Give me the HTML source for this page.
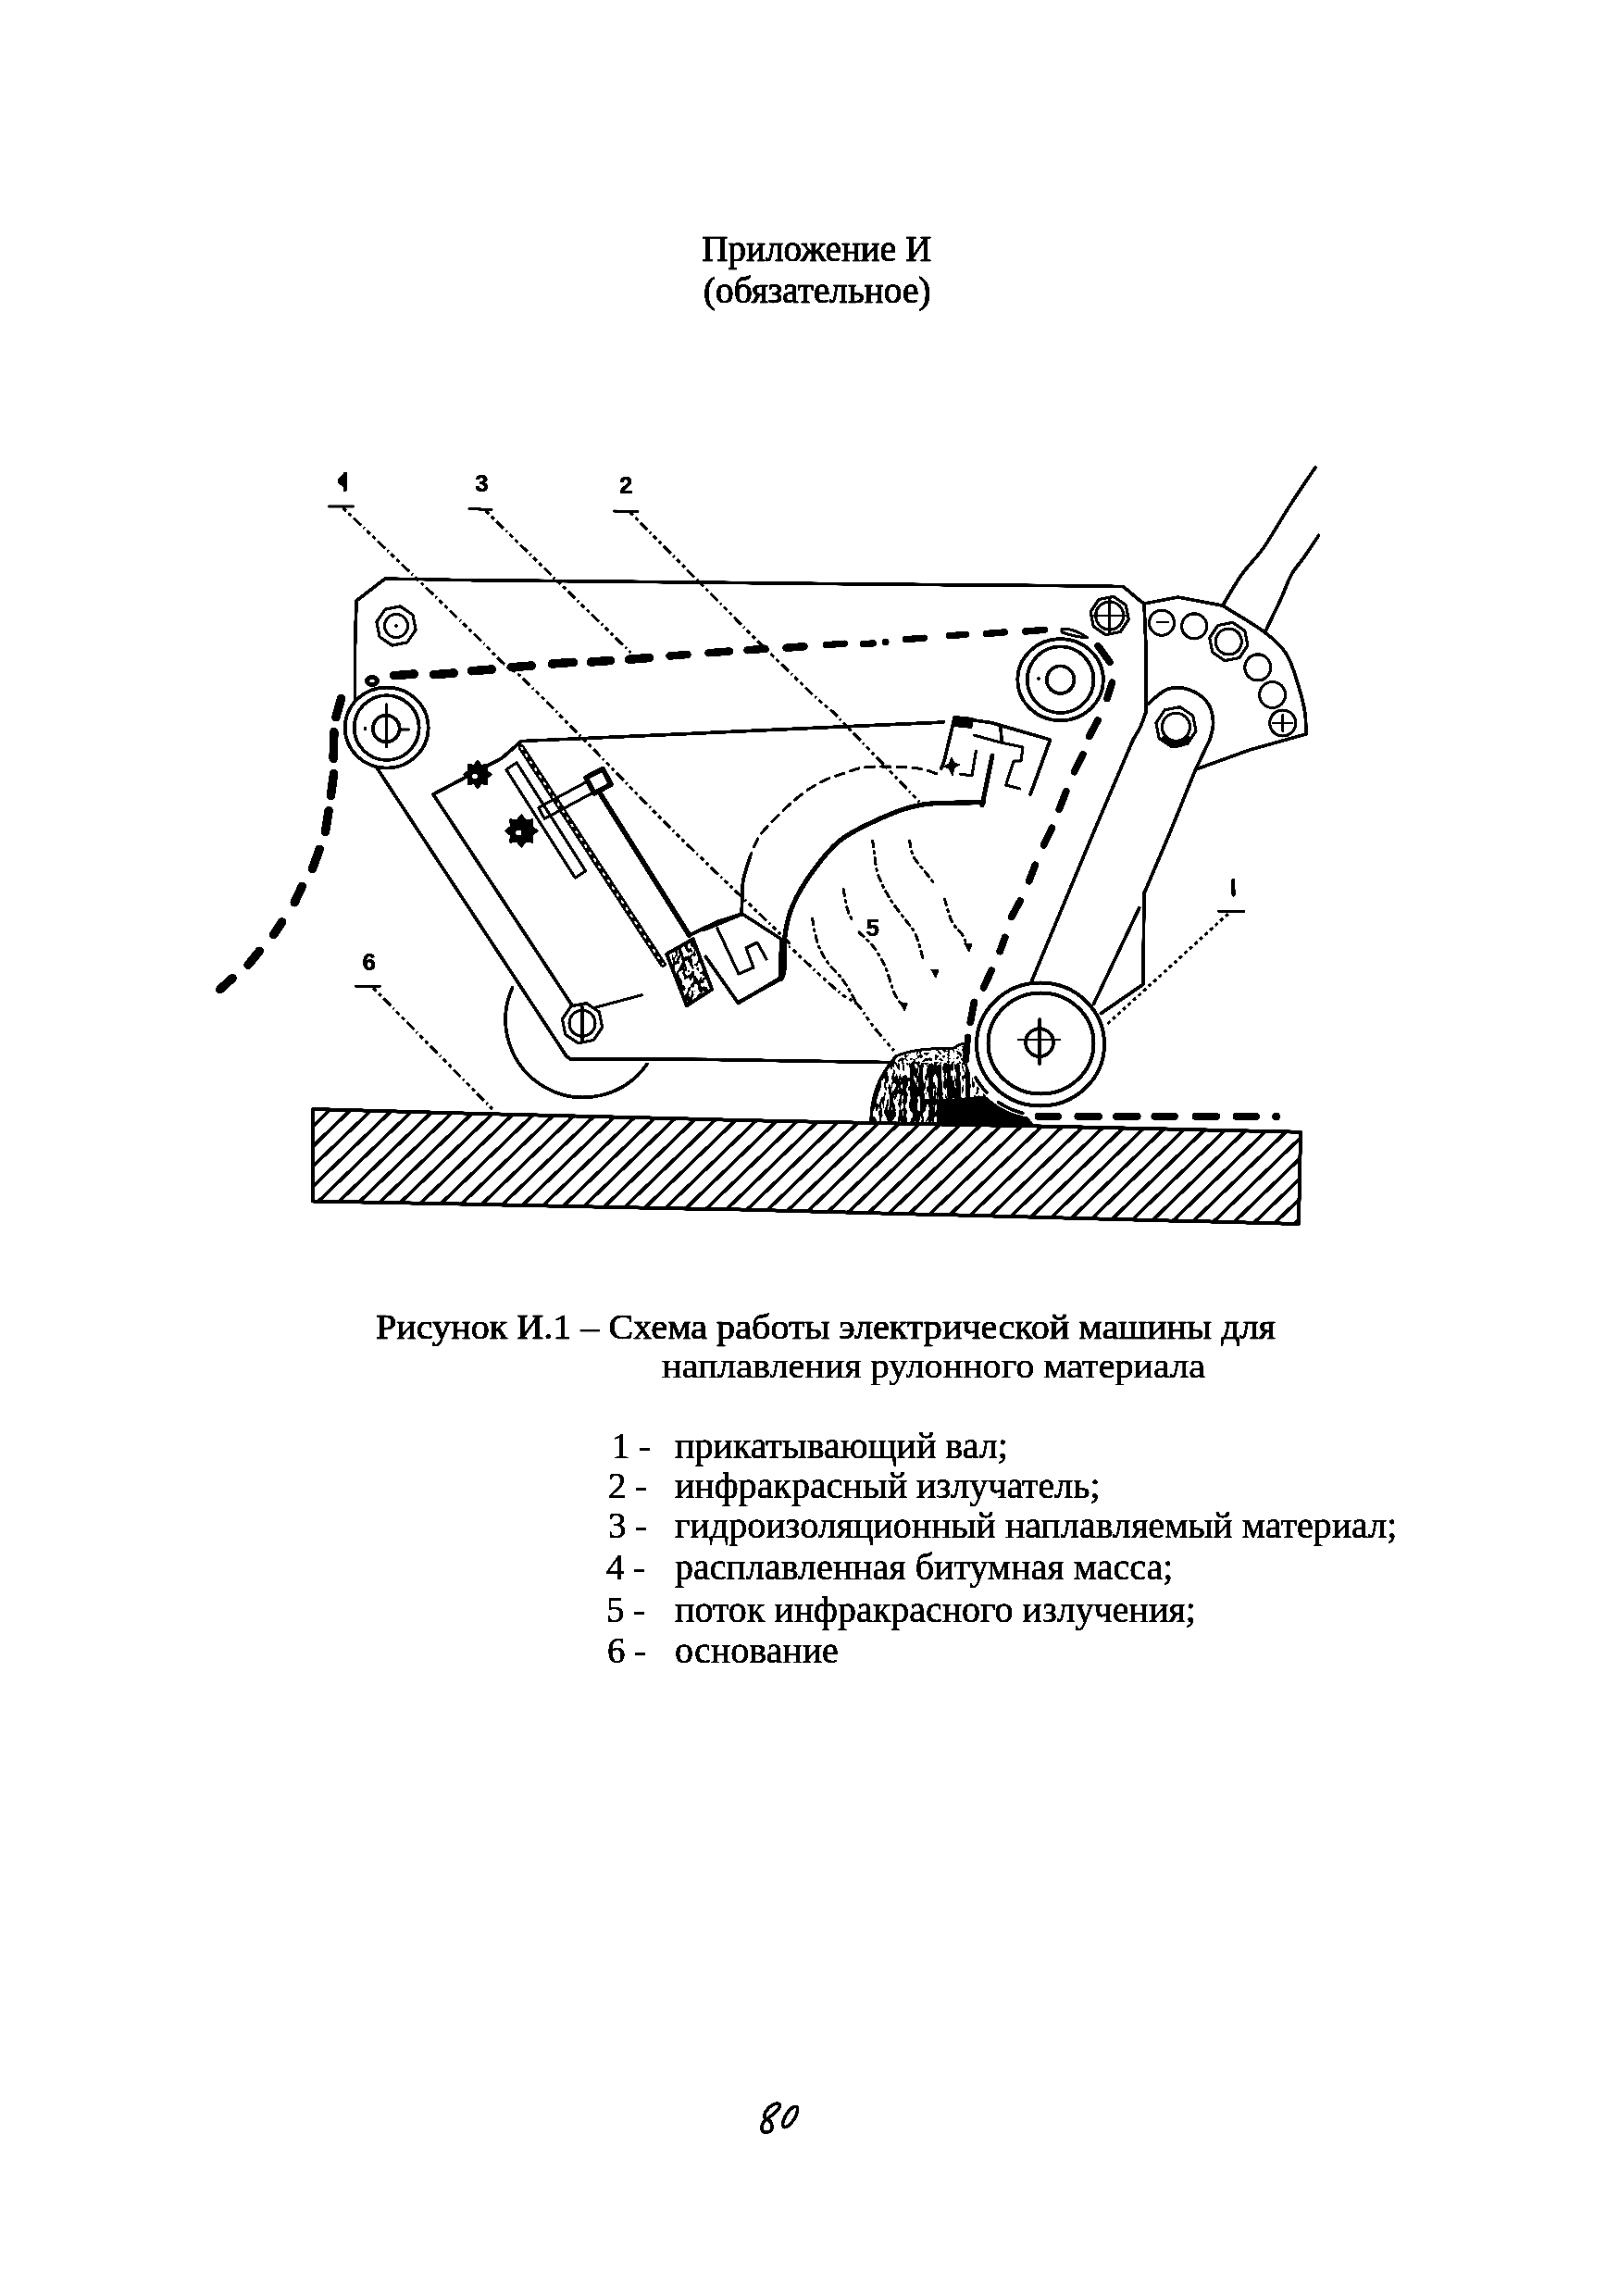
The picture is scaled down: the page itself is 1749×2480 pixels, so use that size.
<!DOCTYPE html>
<html><head><meta charset="utf-8"><style>
html,body{margin:0;padding:0;background:#fff;}
svg{display:block;filter:grayscale(1) contrast(12);}
</style></head><body>
<svg width="1749" height="2480" viewBox="0 0 1749 2480">
<rect width="1749" height="2480" fill="#fff"/>
<g fill="none" stroke="#000" stroke-linecap="round" stroke-linejoin="round">
<clipPath id="bc"><polygon points="338.0,1198.0 530.0,1203.3 800.0,1210.0 1124.0,1216.6 1405.0,1222.8 1403.0,1322.0 800.0,1306.6 530.0,1301.2 338.0,1297.5"/></clipPath>
<g clip-path="url(#bc)" stroke-width="3.8"><line x1="323.9" y1="1100" x2="12.7" y2="1400"/><line x1="346.4" y1="1100" x2="35.2" y2="1400"/><line x1="368.9" y1="1100" x2="57.7" y2="1400"/><line x1="391.4" y1="1100" x2="80.2" y2="1400"/><line x1="413.9" y1="1100" x2="102.7" y2="1400"/><line x1="436.4" y1="1100" x2="125.2" y2="1400"/><line x1="458.9" y1="1100" x2="147.7" y2="1400"/><line x1="481.4" y1="1100" x2="170.2" y2="1400"/><line x1="503.9" y1="1100" x2="192.7" y2="1400"/><line x1="526.4" y1="1100" x2="215.2" y2="1400"/><line x1="548.9" y1="1100" x2="237.7" y2="1400"/><line x1="571.4" y1="1100" x2="260.2" y2="1400"/><line x1="593.9" y1="1100" x2="282.7" y2="1400"/><line x1="616.4" y1="1100" x2="305.2" y2="1400"/><line x1="638.9" y1="1100" x2="327.7" y2="1400"/><line x1="661.4" y1="1100" x2="350.2" y2="1400"/><line x1="683.9" y1="1100" x2="372.7" y2="1400"/><line x1="706.4" y1="1100" x2="395.2" y2="1400"/><line x1="728.9" y1="1100" x2="417.7" y2="1400"/><line x1="751.4" y1="1100" x2="440.2" y2="1400"/><line x1="773.9" y1="1100" x2="462.7" y2="1400"/><line x1="796.4" y1="1100" x2="485.2" y2="1400"/><line x1="818.9" y1="1100" x2="507.7" y2="1400"/><line x1="841.4" y1="1100" x2="530.2" y2="1400"/><line x1="863.9" y1="1100" x2="552.7" y2="1400"/><line x1="886.4" y1="1100" x2="575.2" y2="1400"/><line x1="908.9" y1="1100" x2="597.7" y2="1400"/><line x1="931.4" y1="1100" x2="620.2" y2="1400"/><line x1="953.9" y1="1100" x2="642.6" y2="1400"/><line x1="976.3" y1="1100" x2="665.1" y2="1400"/><line x1="998.8" y1="1100" x2="687.6" y2="1400"/><line x1="1021.3" y1="1100" x2="710.1" y2="1400"/><line x1="1043.8" y1="1100" x2="732.6" y2="1400"/><line x1="1066.3" y1="1100" x2="755.1" y2="1400"/><line x1="1088.8" y1="1100" x2="777.6" y2="1400"/><line x1="1111.3" y1="1100" x2="800.1" y2="1400"/><line x1="1133.8" y1="1100" x2="822.6" y2="1400"/><line x1="1156.3" y1="1100" x2="845.1" y2="1400"/><line x1="1178.8" y1="1100" x2="867.6" y2="1400"/><line x1="1201.3" y1="1100" x2="890.1" y2="1400"/><line x1="1223.8" y1="1100" x2="912.6" y2="1400"/><line x1="1246.3" y1="1100" x2="935.1" y2="1400"/><line x1="1268.8" y1="1100" x2="957.6" y2="1400"/><line x1="1291.3" y1="1100" x2="980.1" y2="1400"/><line x1="1313.8" y1="1100" x2="1002.6" y2="1400"/><line x1="1336.3" y1="1100" x2="1025.1" y2="1400"/><line x1="1358.8" y1="1100" x2="1047.6" y2="1400"/><line x1="1381.3" y1="1100" x2="1070.1" y2="1400"/><line x1="1403.8" y1="1100" x2="1092.6" y2="1400"/><line x1="1426.3" y1="1100" x2="1115.1" y2="1400"/><line x1="1448.8" y1="1100" x2="1137.6" y2="1400"/><line x1="1471.3" y1="1100" x2="1160.1" y2="1400"/><line x1="1493.8" y1="1100" x2="1182.6" y2="1400"/><line x1="1516.3" y1="1100" x2="1205.1" y2="1400"/><line x1="1538.8" y1="1100" x2="1227.6" y2="1400"/><line x1="1561.3" y1="1100" x2="1250.1" y2="1400"/><line x1="1583.8" y1="1100" x2="1272.6" y2="1400"/><line x1="1606.3" y1="1100" x2="1295.1" y2="1400"/><line x1="1628.8" y1="1100" x2="1317.6" y2="1400"/><line x1="1651.3" y1="1100" x2="1340.1" y2="1400"/></g>
<polygon points="338.0,1198.0 530.0,1203.3 800.0,1210.0 1124.0,1216.6 1405.0,1222.8 1403.0,1322.0 800.0,1306.6 530.0,1301.2 338.0,1297.5" stroke-width="4.0" />
<polyline points="383.5,757.0 383.5,700.0 385.0,649.0 416.0,625.0 500.0,626.5 880.0,630.4 1180.0,632.9 1213.5,633.6 1230.5,648.0 1236.0,652.0 1238.0,700.0 1238.0,769.0" stroke-width="3.75" />
<polygon points="449.1,680.3 439.9,693.9 423.7,697.1 410.1,687.9 406.9,671.7 416.1,658.1 432.3,654.9 445.9,664.1" stroke-width="3.125" />
<circle cx="428.0" cy="676.0" r="12.5" stroke-width="3.125" />
<circle cx="428.0" cy="676.0" r="2.0" fill="#000" stroke="none"/>
<polygon points="1219.3,669.2 1210.3,682.5 1194.5,685.6 1181.2,676.6 1178.1,660.8 1187.1,647.5 1202.9,644.4 1216.2,653.4" stroke-width="3.125" />
<circle cx="1198.7" cy="665.0" r="15.0" stroke-width="3.125" />
<line x1="1181.9" y1="665.0" x2="1215.5" y2="665.0" stroke-width="2.5" />
<line x1="1198.7" y1="646.1" x2="1198.7" y2="683.9" stroke-width="3.125" />
<polyline points="1236.0,652.0 1272.6,645.0 1320.8,654.2" stroke-width="3.75" />
<path d="M1320.8,654.2 C1328.2,658.8 1353.6,673.4 1365.0,682.0 C1376.4,690.6 1383.2,696.4 1389.4,706.0 C1395.6,715.6 1398.9,728.7 1402.3,739.4 C1405.7,750.1 1408.4,761.1 1409.8,770.0 C1411.2,778.9 1410.5,789.2 1410.7,793.0" stroke-width="3.75" />
<polyline points="1410.7,793.0 1350.0,810.0 1292.0,831.0" stroke-width="3.75" />
<circle cx="1255.0" cy="672.7" r="13.5" stroke-width="3.125" />
<circle cx="1290.2" cy="676.4" r="13.5" stroke-width="3.125" />
<circle cx="1358.8" cy="720.9" r="14.0" stroke-width="3.125" />
<circle cx="1374.6" cy="750.5" r="14.0" stroke-width="3.125" />
<circle cx="1385.7" cy="781.0" r="14.0" stroke-width="3.125" />
<polygon points="1347.9,697.2 1338.9,710.5 1323.1,713.6 1309.8,704.6 1306.7,688.8 1315.7,675.5 1331.5,672.4 1344.8,681.4" stroke-width="3.125" />
<circle cx="1327.3" cy="693.0" r="14.0" stroke-width="3.125" />
<line x1="1250.0" y1="672.0" x2="1262.0" y2="672.0" stroke-width="2.5" />
<line x1="1385.7" y1="772.0" x2="1385.7" y2="790.0" stroke-width="2.5" />
<line x1="1375.0" y1="781.0" x2="1396.0" y2="781.0" stroke-width="2.5" />
<path d="M1320.8,654.2 C1324.2,648.6 1333.8,631.3 1341.2,620.8 C1348.6,610.3 1356.7,603.6 1365.3,591.2 C1373.9,578.9 1383.7,561.1 1393.0,546.7 C1402.3,532.3 1416.2,511.9 1420.9,505.0" stroke-width="3.75" />
<path d="M1367.0,682.0 C1369.8,676.1 1379.1,657.0 1383.8,646.8 C1388.5,636.6 1390.7,628.5 1395.0,620.8 C1399.3,613.1 1404.9,607.5 1409.8,600.4 C1414.7,593.3 1422.1,581.9 1424.6,578.2" stroke-width="3.75" />
<path d="M1238.0,769.0 C1237.0,771.7 1234.3,780.0 1232.0,785.0 C1229.7,790.0 1225.3,796.7 1224.0,799.0" stroke-width="3.75" />
<polyline points="1224.0,799.0 1181.0,900.0 1114.0,1061.0" stroke-width="3.75" />
<path d="M1240.0,760.5 C1243.5,757.8 1253.6,747.1 1261.0,744.5 C1268.4,741.9 1277.4,742.6 1284.6,745.0 C1291.8,747.4 1300.1,753.2 1304.4,759.0 C1308.7,764.8 1310.2,773.3 1310.6,780.0 C1311.0,786.7 1307.6,795.8 1307.0,799.0" stroke-width="3.75" />
<polyline points="1307.0,799.0 1292.0,830.0 1263.6,900.0 1236.0,965.0" stroke-width="3.75" />
<polyline points="1236.0,965.0 1234.8,1063.4 1189.4,1094.6" stroke-width="3.75" />
<polyline points="1230.9,980.4 1181.6,1084.2" stroke-width="3.75" />
<polygon points="1292.0,789.6 1282.6,803.5 1266.0,806.8 1252.1,797.4 1248.8,780.8 1258.2,766.9 1274.8,763.6 1288.7,773.0" stroke-width="3.125" />
<circle cx="1270.4" cy="785.2" r="15.0" stroke-width="3.125" />
<path d="M1258,798 A15,15 0 0 0 1283,798" stroke-width="6"/>
<ellipse cx="1145.6" cy="734.2" rx="46.3" ry="44.0" stroke-width="3.75" />
<circle cx="1145.6" cy="734.2" r="35.8" stroke-width="3.75" />
<circle cx="1145.6" cy="734.2" r="14.8" stroke-width="3.75" />
<circle cx="1122.0" cy="733.0" r="2.0" fill="#000" stroke="none"/>
<ellipse cx="417.7" cy="786.0" rx="45.0" ry="43.5" stroke-width="3.75" />
<circle cx="417.7" cy="786.0" r="35.0" stroke-width="3.75" />
<circle cx="417.2" cy="787.0" r="14.4" stroke-width="3.75" />
<line x1="417.5" y1="761.0" x2="417.5" y2="806.0" stroke-width="3.75" />
<line x1="433.0" y1="788.0" x2="442.0" y2="788.0" stroke-width="3.125" />
<circle cx="394.5" cy="787.0" r="2.0" fill="#000" stroke="none"/>
<polyline points="407.5,830.0 612.0,1141.0 616.4,1143.8 760.0,1144.4 965.8,1147.6" stroke-width="3.75" />
<polyline points="618.0,1086.0 468.0,858.0 542.0,819.0 563.3,800.5 680.0,795.4 900.0,785.4 1019.6,780.0" stroke-width="3.75" />
<path d="M553.6,1066.7 A84,84 0 0 0 699,1149.4" stroke-width="3.75"/>
<polygon points="650.6,1109.6 641.2,1123.5 624.6,1126.8 610.7,1117.4 607.4,1100.8 616.8,1086.9 633.4,1083.6 647.3,1093.0" stroke-width="3.125" />
<circle cx="629.0" cy="1105.2" r="14.0" stroke-width="3.125" />
<line x1="629.0" y1="1087.6" x2="629.0" y2="1125.0" stroke-width="3.125" />
<line x1="643.0" y1="1088.2" x2="693.4" y2="1074.8" stroke-width="3.125" />
<polygon points="546.8,831.2 621.3,948.2 632.7,940.8 558.2,823.8" stroke-width="3.125" />
<line x1="563.3" y1="807.7" x2="716.1" y2="1041.4" stroke-width="7" />
<line x1="563.3" y1="807.7" x2="716.1" y2="1041.4" stroke="#fff" stroke-width="2.2" stroke-dasharray="2 7"/>
<line x1="648.9" y1="858.0" x2="744.6" y2="1010.2" stroke-width="5.625" />
<polygon points="588.2,884.3 658.9,846.3 652.5,834.3 581.8,872.3" stroke-width="3.125" />
<polygon points="642.0,856.9 660.0,847.2 651.0,830.4 633.0,840.1" stroke-width="5.625" fill="#fff"/>
<polygon points="531.5,836.5 526.3,840.8 527.0,847.5 520.3,846.8 516.0,852.0 511.7,846.8 505.0,847.5 505.7,840.8 500.5,836.5 505.7,832.2 505.0,825.5 511.7,826.2 516.0,821.0 520.3,826.2 527.0,825.5 526.3,832.2" fill="#000" stroke-width="1"/>
<circle cx="513.0" cy="838.5" r="3.0" stroke-width="0.0" fill="#fff" stroke="none"/>
<polygon points="581.3,897.5 575.3,902.5 576.0,910.2 568.3,909.5 563.3,915.5 558.3,909.5 550.6,910.2 551.3,902.5 545.3,897.5 551.3,892.5 550.6,884.8 558.3,885.5 563.3,879.5 568.3,885.5 576.0,884.8 575.3,892.5" fill="#000" stroke-width="1"/>
<circle cx="560.3" cy="899.5" r="3.0" stroke-width="0.0" fill="#fff" stroke="none"/>
<pattern id="stip" width="6" height="6" patternUnits="userSpaceOnUse"><rect width="6" height="6" fill="#fff"/><rect x="0" y="0" width="4" height="3" fill="#000"/><rect x="3" y="3" width="2" height="3" fill="#000"/></pattern>
<filter id="mot1" filterUnits="userSpaceOnUse" x="700" y="1000" width="90" height="100"><feTurbulence type="fractalNoise" baseFrequency="0.22 0.12" numOctaves="2" seed="7" result="n"/><feColorMatrix in="n" type="matrix" values="0 0 0 0 0  0 0 0 0 0  0 0 0 0 0  1 0 0 0 0"/><feComponentTransfer><feFuncA type="discrete" tableValues="0 0 0 0 0 0 0 0 0 0 1 1 1 1 1 1 1 1 1 1"/></feComponentTransfer><feComposite in2="SourceGraphic" operator="in"/></filter>
<polygon points="720.2,1030.6 748.7,1014.3 769.1,1068.6 741.9,1086.3" fill="#000" stroke="none" filter="url(#mot1)"/>
<polygon points="720.2,1030.6 748.7,1014.3 769.1,1068.6 741.9,1086.3" stroke-width="4"/>
<polyline points="744.6,1010.2 775.9,995.2 801.7,987.0 843.8,1014.3 842.5,1056.4 797.6,1083.6 762.3,1033.3" stroke-width="3.75" />
<polyline points="775.0,1003.0 783.0,1020.0 798.0,1052.0 814.0,1045.0 806.0,1024.0 818.0,1018.0 828.0,1036.0" stroke-width="3.125" />
<rect x="1031" y="774" width="20" height="12" fill="#000" stroke="none" transform="rotate(6 1041 780)"/>
<polyline points="1031.0,775.0 1071.0,780.6 1134.5,799.0 1116.8,848.0 1113.0,858.0" stroke-width="3.75" />
<polyline points="1031.0,776.0 1020.0,822.0 1016.7,830.0" stroke-width="3.75" />
<polyline points="1052.0,794.0 1081.0,802.0 1105.0,807.0 1103.0,822.0 1095.0,822.0 1086.7,848.0 1102.0,852.0" stroke-width="3.125" />
<polyline points="1072.0,816.0 1061.0,870.0" stroke-width="5.0" />
<line x1="1081.0" y1="785.0" x2="1082.0" y2="800.0" stroke-width="3.75" />
<polyline points="1054.4,811.0 1050.0,838.0 1037.0,836.0" stroke-width="3.125" />
<polygon points="1028,818 1031,824 1037,826 1031,829 1029,838 1025,830 1019,828 1025,825" fill="#000" stroke-width="1"/>
<path d="M1012.0,835.7 C1008.0,834.7 1000.0,830.7 987.8,829.5 C975.5,828.3 950.9,827.5 938.5,828.4 C926.1,829.3 922.0,831.9 913.3,834.7 C904.5,837.5 895.1,840.3 886.0,845.2 C876.9,850.1 869.2,854.9 858.7,864.0 C848.2,873.1 831.0,889.6 823.0,899.8 C815.0,910.0 812.5,920.8 810.4,925.0" stroke-width="3.125" stroke-dasharray="10 7"/>
<path d="M810.4,925.0 C809.2,929.2 804.4,943.0 803.0,950.0 C801.6,957.0 802.3,960.7 802.0,967.0 C801.7,973.3 801.2,984.5 801.0,988.0" stroke-width="3.75" />
<polyline points="801.0,988.0 760.0,1004.8" stroke-width="3.125" />
<path d="M1062.3,866.7 C1051.1,867.1 1014.1,866.2 995.2,869.3 C976.3,872.4 963.7,878.6 949.0,885.1 C934.3,891.6 918.9,898.8 907.0,908.2 C895.1,917.7 886.0,930.2 877.6,941.8 C869.2,953.3 861.5,966.3 856.6,977.5 C851.7,988.7 849.8,997.5 848.2,1009.0 C846.6,1020.5 847.8,1038.8 847.1,1046.8 C846.4,1054.8 844.5,1055.5 844.0,1057.3" stroke-width="5.25" />
<polyline points="844.0,1057.3 797.8,1082.5" stroke-width="3.75" />
<path d="M877.6,992.0 C878.1,994.8 879.3,1003.4 880.7,1009.0 C882.1,1014.6 883.4,1020.2 886.0,1025.8 C888.6,1031.4 892.3,1037.0 896.5,1042.6 C900.7,1048.2 906.3,1052.4 911.2,1059.4 C916.1,1066.4 923.5,1080.4 926.0,1084.6" stroke-width="3.125" stroke-dasharray="7 5 2 5"/>
<path d="M911.2,960.7 C911.9,964.2 913.6,975.8 915.4,981.7 C917.1,987.7 920.7,994.0 921.7,996.4" stroke-width="3.125" stroke-dasharray="7 5 2 5"/>
<path d="M928.0,1007.0 C930.5,1009.4 938.9,1017.1 942.7,1021.6 C946.5,1026.1 948.5,1030.0 951.0,1034.2 C953.5,1038.4 954.9,1040.5 957.4,1046.8 C959.9,1053.1 963.0,1065.6 965.8,1072.0 C968.6,1078.4 972.6,1082.8 974.0,1085.0" stroke-width="3.125" stroke-dasharray="7 5 2 5"/>
<path d="M942.7,908.0 C943.1,910.8 943.8,918.7 944.8,925.0 C945.8,931.3 946.2,938.3 949.0,946.0 C951.8,953.7 956.7,963.0 961.6,971.0 C966.5,979.0 973.8,987.7 978.4,994.0 C983.0,1000.3 985.9,1002.0 989.0,1009.0 C992.1,1016.0 995.9,1031.5 997.3,1036.0" stroke-width="3.125" stroke-dasharray="7 5 2 5"/>
<path d="M982.6,908.0 C983.3,910.8 984.0,919.4 986.8,925.0 C989.6,930.6 995.9,937.2 999.4,941.8 C1002.9,946.3 1006.4,950.5 1007.8,952.3" stroke-width="3.125" stroke-dasharray="7 5 2 5"/>
<path d="M1020.4,971.0 C1021.8,975.2 1025.6,990.1 1028.8,996.4 C1032.0,1002.7 1036.5,1004.5 1039.3,1009.0 C1042.1,1013.5 1044.5,1021.2 1045.6,1023.7" stroke-width="3.125" stroke-dasharray="7 5 2 5"/>
<polygon points="972.3,1082.8 980.3,1083.8 977.3,1091.8" fill="#000" stroke-width="1"/>
<polygon points="1006,1047 1014,1048 1011,1056" fill="#000" stroke-width="1"/>
<polygon points="1042,1019 1050,1020 1047,1028" fill="#000" stroke-width="1"/>
<g stroke-width="9.5">
<ellipse cx="402.0" cy="735.5" rx="5.5" ry="4.0" stroke-width="5" />
<line x1="425.5" y1="729.7" x2="447.5" y2="728.0" stroke-width="9.5" />
<line x1="468.5" y1="728.7" x2="490.5" y2="727.0" stroke-width="9.5" />
<line x1="509.5" y1="724.7" x2="531.5" y2="723.0" stroke-width="9.5" />
<line x1="552.5" y1="720.7" x2="574.5" y2="719.0" stroke-width="9.5" />
<line x1="596.5" y1="717.1" x2="619.5" y2="715.3" stroke-width="9.5" />
<line x1="638.5" y1="715.1" x2="659.5" y2="713.4" stroke-width="9.5" />
<line x1="679.5" y1="712.2" x2="701.5" y2="710.5" stroke-width="9.5" />
<line x1="723.5" y1="708.5" x2="742.5" y2="707.0" stroke-width="8.5" />
<line x1="765.5" y1="705.3" x2="788.0" y2="703.5" stroke-width="8.5" />
<line x1="807.5" y1="702.3" x2="826.5" y2="700.8" stroke-width="8.5" />
<line x1="849.5" y1="699.7" x2="868.5" y2="698.2" stroke-width="8.5" />
<line x1="892.5" y1="696.7" x2="912.5" y2="695.1" stroke-width="7.3" />
<line x1="932.5" y1="695.7" x2="943.5" y2="694.8" stroke-width="7.3" />
<line x1="978.5" y1="690.7" x2="998.5" y2="689.1" stroke-width="7.3" />
<line x1="1025.5" y1="686.7" x2="1043.5" y2="685.3" stroke-width="7.3" />
<line x1="1065.5" y1="684.5" x2="1085.5" y2="682.9" stroke-width="7.3" />
<line x1="1107.5" y1="682.0" x2="1128.5" y2="680.3" stroke-width="7.3" />
</g>
<circle cx="956.6" cy="693.4" r="4.0" fill="#000" stroke="none"/>
<path d="M1147,679 Q1162,679 1175,689 Q1162,688 1147,683 Z" stroke-width="3"/>
<line x1="1186.1" y1="697.5" x2="1198.9" y2="715.2" stroke-width="7.8" />
<line x1="1201.4" y1="737.3" x2="1196.0" y2="754.4" stroke-width="7.8" />
<line x1="1185.9" y1="778.1" x2="1176.7" y2="795.3" stroke-width="7.8" />
<line x1="1169.9" y1="815.1" x2="1160.6" y2="833.6" stroke-width="7.8" />
<line x1="1151.7" y1="854.8" x2="1144.3" y2="874.2" stroke-width="7.8" />
<line x1="1136.5" y1="894.2" x2="1127.5" y2="912.8" stroke-width="7.8" />
<line x1="1118.3" y1="934.3" x2="1111.7" y2="951.7" stroke-width="7.8" />
<line x1="1102.1" y1="973.1" x2="1092.7" y2="990.3" stroke-width="7.8" />
<line x1="1085.8" y1="1012.3" x2="1080.2" y2="1027.7" stroke-width="7.8" />
<line x1="1071.1" y1="1048.2" x2="1062.5" y2="1066.8" stroke-width="7.8" />
<line x1="1052.4" y1="1082.4" x2="1048.3" y2="1104.1" stroke-width="7.8" />
<line x1="368.6" y1="754.4" x2="362.9" y2="774.6" stroke-width="9.5" />
<line x1="360.9" y1="790.5" x2="360.1" y2="819.5" stroke-width="9.5" />
<line x1="360.6" y1="835.5" x2="357.4" y2="859.5" stroke-width="9.5" />
<line x1="355.1" y1="875.5" x2="351.5" y2="898.5" stroke-width="9.5" />
<line x1="345.2" y1="917.3" x2="337.4" y2="938.7" stroke-width="9.5" />
<line x1="326.3" y1="957.2" x2="318.2" y2="974.8" stroke-width="9.5" />
<line x1="304.6" y1="995.9" x2="295.5" y2="1009.6" stroke-width="9.5" />
<line x1="280.3" y1="1027.2" x2="268.0" y2="1042.3" stroke-width="9.5" />
<line x1="251.1" y1="1056.4" x2="237.8" y2="1068.6" stroke-width="9.5" />
<line x1="1121.5" y1="1205.8" x2="1143.1" y2="1205.8" stroke-width="7.8" />
<line x1="1164.3" y1="1205.8" x2="1187.2" y2="1205.8" stroke-width="7.8" />
<line x1="1205.8" y1="1205.8" x2="1228.7" y2="1205.8" stroke-width="7.8" />
<line x1="1247.3" y1="1205.8" x2="1268.9" y2="1205.8" stroke-width="7.8" />
<line x1="1291.5" y1="1205.8" x2="1314.3" y2="1205.8" stroke-width="7.8" />
<line x1="1335.5" y1="1205.8" x2="1357.1" y2="1205.8" stroke-width="7.8" />
<circle cx="1378.7" cy="1206.0" r="4.5" fill="#000" stroke="none"/>
<filter id="mot2" filterUnits="userSpaceOnUse" x="930" y="1120" width="200" height="100"><feTurbulence type="fractalNoise" baseFrequency="0.25 0.08" numOctaves="2" seed="11" result="n"/><feColorMatrix in="n" type="matrix" values="0 0 0 0 0  0 0 0 0 0  0 0 0 0 0  1 0 0 0 0"/><feComponentTransfer><feFuncA type="discrete" tableValues="0 0 0 0 0 0 0 0 0 0 1 1 1 1 1 1 1 1 1 1"/></feComponentTransfer><feComposite in2="SourceGraphic" operator="in"/></filter>
<filter id="mot3" filterUnits="userSpaceOnUse" x="930" y="1120" width="200" height="100"><feTurbulence type="fractalNoise" baseFrequency="0.3 0.3" numOctaves="1" seed="5" result="n"/><feColorMatrix in="n" type="matrix" values="0 0 0 0 0  0 0 0 0 0  0 0 0 0 0  1 0 0 0 0"/><feComponentTransfer><feFuncA type="discrete" tableValues="0 0 0 0 0 0 0 0 0 0 0 1 1 1 1 1 1 1 1 1"/></feComponentTransfer><feComposite in2="SourceGraphic" operator="in"/></filter>
<path d="M966,1146 C972,1138 985,1134 1000,1133 L1031,1132 C1038,1128 1045,1130 1050,1140 L1052,1150 L966,1150 Z" fill="#000" stroke="none" filter="url(#mot3)"/>
<path d="M968,1141 C980,1135 1000,1132 1031,1132 C1038,1126 1044,1126 1048,1134" stroke-width="3"/>
<path d="M941,1213 C941,1190 946,1166 966,1148 L1052,1148 C1060,1166 1080,1186 1108,1205 L1118,1215 L941,1215 Z" fill="#000" stroke="none" filter="url(#mot2)"/>
<path d="M941,1213 C941,1190 946,1166 968,1141" stroke-width="3.5"/>
<path d="M962,1213 C960,1192 965,1176 975,1168 C985,1162 992,1170 990,1185" stroke-width="3"/>
<path d="M1012,1188 L1060,1184 L1085,1188 L1112,1208 L1116,1215 L1012,1215 Z" fill="#000" stroke="none"/>
<line x1="985.0" y1="1152.0" x2="986.0" y2="1200.0" stroke-width="4.375" />
<line x1="995.0" y1="1152.0" x2="996.0" y2="1200.0" stroke-width="4.375" />
<line x1="1005.0" y1="1152.0" x2="1006.0" y2="1200.0" stroke-width="4.375" />
<line x1="1015.0" y1="1152.0" x2="1016.0" y2="1200.0" stroke-width="4.375" />
<line x1="1025.0" y1="1152.0" x2="1026.0" y2="1200.0" stroke-width="4.375" />
<line x1="1035.0" y1="1152.0" x2="1036.0" y2="1200.0" stroke-width="4.375" />
<line x1="1045.0" y1="1152.0" x2="1046.0" y2="1200.0" stroke-width="4.375" />
<polyline points="1047.1,1130.6 1048.0,1139.4 1049.9,1148.0 1052.9,1156.4 1056.9,1164.3 1061.9,1171.8 1067.7,1178.6 1074.4,1184.7 1081.7,1189.9 1089.7,1194.4 1098.1,1197.8 1106.9,1200.3 1116.0,1201.7" stroke="#fff" stroke-width="11" stroke-linecap="butt"/>
<polyline points="1053.9,1163.9 1056.5,1168.2 1059.4,1172.4 1062.6,1176.4 1066.0,1180.2" stroke-width="3.75" />
<polyline points="1078.5,1190.6 1083.4,1193.7 1088.5,1196.4 1093.8,1198.7 1099.2,1200.6 1104.8,1202.2" stroke-width="3.75" />
<line x1="1045.5" y1="1120.0" x2="1043.5" y2="1145.0" stroke-width="7" />
<ellipse cx="1124.0" cy="1128.0" rx="69.0" ry="66.5" stroke-width="4.0" />
<ellipse cx="1124.5" cy="1127.0" rx="57.0" ry="54.5" stroke-width="4.0" />
<circle cx="1123.0" cy="1126.0" r="15.0" stroke-width="3.75" />
<line x1="1123.2" y1="1101.0" x2="1123.2" y2="1149.0" stroke-width="3.75" />
<line x1="1100.0" y1="1123.0" x2="1145.0" y2="1123.0" stroke-width="2.5" />
<line x1="355.0" y1="547.0" x2="382.0" y2="547.0" stroke-width="3.125" />
<path d="M370.5,548.6 C392.1,569.3 471.0,644.9 500.0,673.0 C529.0,701.1 533.8,707.2 544.5,717.0 C555.2,726.8 549.6,718.3 564.0,732.0 C578.4,745.7 603.3,771.0 631.0,799.0 C658.7,827.0 694.5,864.8 730.0,900.0 C765.5,935.2 822.9,989.0 844.0,1010.0 C865.1,1031.0 846.1,1015.5 856.6,1025.8 C867.1,1036.1 895.4,1062.2 907.0,1072.0 C918.6,1081.8 920.0,1078.6 926.0,1084.6 C932.0,1090.5 936.1,1099.3 942.7,1107.7 C949.3,1116.1 961.9,1130.5 965.8,1135.0" stroke-width="3.25" stroke-dasharray="5 3.5 4 3.5 11 3.5 2 3.5" stroke-linecap="butt"/>
<line x1="507.0" y1="549.4" x2="531.0" y2="550.6" stroke-width="3.125" />
<line x1="524.7" y1="552.0" x2="681.6" y2="705.0" stroke-width="3.25" stroke-dasharray="5 3.5 4 3.5 11 3.5 2 3.5" stroke-linecap="butt"/>
<line x1="663.0" y1="552.0" x2="689.0" y2="552.4" stroke-width="3.125" />
<polyline points="680.4,553.0 821.0,695.0 884.0,756.0 900.0,769.0 993.6,866.4" stroke-width="3.25" stroke-dasharray="5 3.5 4 3.5 11 3.5 2 3.5" stroke-linecap="butt"/>
<line x1="384.4" y1="1065.3" x2="410.3" y2="1065.3" stroke-width="3.125" />
<line x1="403.0" y1="1067.0" x2="532.0" y2="1198.0" stroke-width="3.25" stroke-dasharray="5 3.5 4 3.5 11 3.5 2 3.5" stroke-linecap="butt"/>
<line x1="1316.5" y1="984.3" x2="1343.7" y2="984.3" stroke-width="3.125" />
<line x1="1326.8" y1="987.0" x2="1194.6" y2="1107.5" stroke-width="3.25" stroke-dasharray="4 3.5" stroke-linecap="butt"/>
<text x="520.4" y="530.9" font-family="Liberation Sans" font-weight="bold" font-size="26" fill="#000" stroke="#000" stroke-width="0.6" text-anchor="middle">3</text>
<text x="676.2" y="532.7" font-family="Liberation Sans" font-weight="bold" font-size="26" fill="#000" stroke="#000" stroke-width="0.6" text-anchor="middle">2</text>
<text x="398.7" y="1047.7" font-family="Liberation Sans" font-weight="bold" font-size="26" fill="#000" stroke="#000" stroke-width="0.6" text-anchor="middle">6</text>
<text x="942.7" y="1011" font-family="Liberation Sans" font-weight="bold" font-size="26" fill="#000" stroke="#000" stroke-width="0.6" text-anchor="middle">5</text>
<path d="M371,509.5 L374.8,510 L374.8,530.5 L371.5,531 L370.5,526 L365.5,522 L365,517 L370.5,512 Z" fill="#000" stroke="none"/>
<line x1="1332.0" y1="951.0" x2="1332.6" y2="966.5" stroke-width="4.25" />
</g>
<text x="758.2" y="281.5" font-family="Liberation Serif" font-size="39.5" font-weight="normal" font-style="normal" text-anchor="start" textLength="248" lengthAdjust="spacingAndGlyphs" stroke="#000" stroke-width="1.1" fill="#000">Приложение И</text>
<text x="760" y="326.5" font-family="Liberation Serif" font-size="39.5" font-weight="normal" font-style="normal" text-anchor="start" textLength="245.5" lengthAdjust="spacingAndGlyphs" stroke="#000" stroke-width="1.1" fill="#000">(обязательное)</text>
<text x="406" y="1445.5" font-family="Liberation Serif" font-size="38.5" font-weight="normal" font-style="normal" text-anchor="start" textLength="972" lengthAdjust="spacingAndGlyphs" stroke="#000" stroke-width="0.9" fill="#000">Рисунок И.1 – Схема работы электрической машины для</text>
<text x="715" y="1487.8" font-family="Liberation Serif" font-size="38" font-weight="normal" font-style="normal" text-anchor="start" textLength="587" lengthAdjust="spacingAndGlyphs" stroke="#000" stroke-width="0.5" fill="#000">наплавления рулонного материала</text>
<text x="661" y="1574.5" font-family="Liberation Serif" font-size="39" font-weight="normal" font-style="normal" text-anchor="start" stroke="#000" stroke-width="0.6" fill="#000">1 -</text>
<text x="729" y="1574.5" font-family="Liberation Serif" font-size="40" font-weight="normal" font-style="normal" text-anchor="start" stroke="#000" stroke-width="0.6" fill="#000">прикатывающий вал;</text>
<text x="657" y="1617.5" font-family="Liberation Serif" font-size="39" font-weight="normal" font-style="normal" text-anchor="start" stroke="#000" stroke-width="0.6" fill="#000">2 -</text>
<text x="729" y="1617.5" font-family="Liberation Serif" font-size="40" font-weight="normal" font-style="normal" text-anchor="start" stroke="#000" stroke-width="0.6" fill="#000">инфракрасный излучатель;</text>
<text x="657" y="1661" font-family="Liberation Serif" font-size="39" font-weight="normal" font-style="normal" text-anchor="start" stroke="#000" stroke-width="0.6" fill="#000">3 -</text>
<text x="729" y="1661" font-family="Liberation Serif" font-size="40" font-weight="normal" font-style="normal" text-anchor="start" stroke="#000" stroke-width="0.6" fill="#000">гидроизоляционный наплавляемый материал;</text>
<text x="655" y="1706" font-family="Liberation Serif" font-size="39" font-weight="normal" font-style="normal" text-anchor="start" stroke="#000" stroke-width="0.6" fill="#000">4 -</text>
<text x="729" y="1706" font-family="Liberation Serif" font-size="40" font-weight="normal" font-style="normal" text-anchor="start" stroke="#000" stroke-width="0.6" fill="#000">расплавленная битумная масса;</text>
<text x="655" y="1752" font-family="Liberation Serif" font-size="39" font-weight="normal" font-style="normal" text-anchor="start" stroke="#000" stroke-width="0.6" fill="#000">5 -</text>
<text x="729" y="1752" font-family="Liberation Serif" font-size="40" font-weight="normal" font-style="normal" text-anchor="start" stroke="#000" stroke-width="0.6" fill="#000">поток инфракрасного излучения;</text>
<text x="656" y="1796" font-family="Liberation Serif" font-size="39" font-weight="normal" font-style="normal" text-anchor="start" stroke="#000" stroke-width="0.6" fill="#000">6 -</text>
<text x="729" y="1796" font-family="Liberation Serif" font-size="40" font-weight="normal" font-style="normal" text-anchor="start" stroke="#000" stroke-width="0.6" fill="#000">основание</text>
<g fill="none" stroke="#000" stroke-width="3.6" stroke-linecap="round"><path d="M829,2289 C834,2284 839,2281 841,2278 C844,2274 842,2271 837,2272.5 C832,2274 827,2280 826,2284 C825.5,2287 827,2288.5 829,2289 C834,2291 835,2298 833,2301 C830,2304.5 824,2304 823,2300 C822.5,2295 825,2291 829,2289 Z"/><ellipse cx="853.6" cy="2286.5" rx="12.8" ry="4.9" transform="rotate(-58 853.6 2286.5)"/></g>
</svg>
</body></html>
